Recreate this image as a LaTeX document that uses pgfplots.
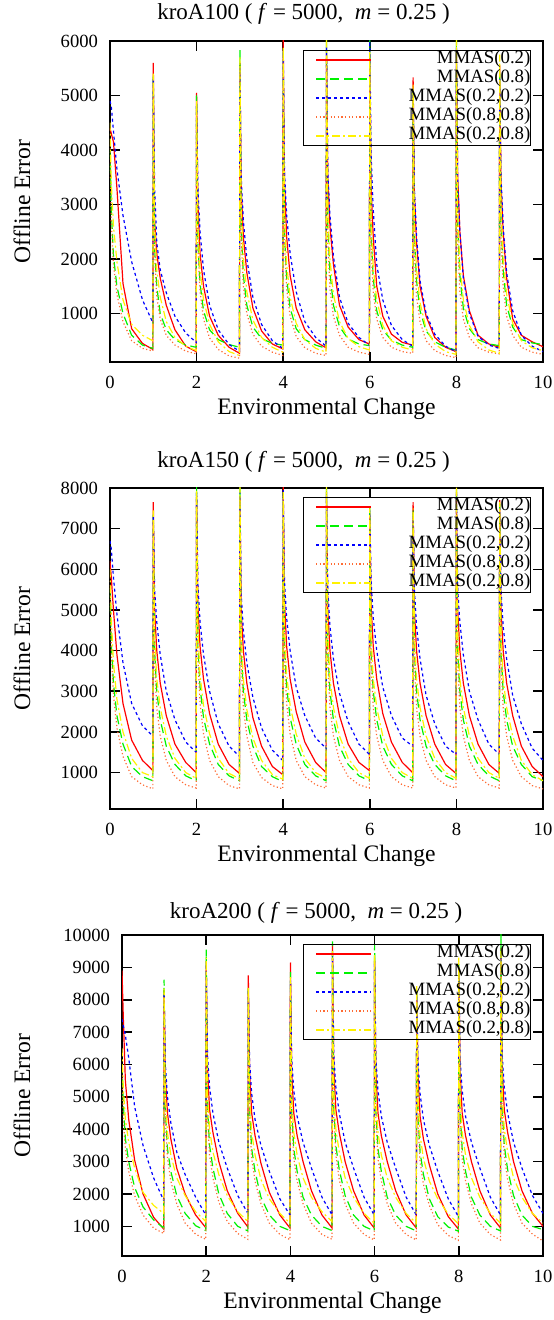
\documentclass[border=0pt]{standalone}
\usepackage{fontspec}
\setmainfont{Liberation Serif}
\usepackage{pgfplots}
\pgfplotsset{compat=1.18}
\usepackage{pgfplotstable}

\definecolor{cR}{rgb}{1,0,0}
\definecolor{cG}{rgb}{0,0.95,0}
\definecolor{cB}{rgb}{0,0,1}
\definecolor{cO}{rgb}{1,0.42,0.2}
\definecolor{cY}{rgb}{1,0.95,0}

\pgfplotstableread{
x r g b o y
0 4400 4000 4900 4100 4500
0.03 4300 2900 4800 2700 3400
0.08 4150 2050 4350 1900 2600
0.16 3300 1500 3650 1350 1950
0.3 1550 1000 2800 850 1250
0.5 720 600 1950 500 800
0.75 450 420 1250 360 600
0.99 340 360 830 310 500
1 5600 5350 5300 5250 5400
1.03 2700 2200 3300 2100 2600
1.08 2100 1500 2300 1300 1800
1.16 1650 1000 1800 900 1300
1.3 1150 700 1380 600 850
1.5 700 520 950 420 560
1.75 400 420 640 310 400
1.99 300 380 470 260 320
2 5050 5000 4850 4800 4900
2.03 3000 2300 3300 2200 2600
2.08 2100 1550 2500 1400 1800
2.16 1500 1050 1800 900 1250
2.3 950 700 1150 550 800
2.5 600 520 700 340 480
2.75 380 430 430 220 300
2.99 270 380 310 180 230
3 5600 5830 5500 5450 5700
3.03 3300 2600 3500 2400 2900
3.08 2400 1700 2700 1500 2000
3.16 1750 1150 2000 1000 1400
3.3 1100 750 1300 620 880
3.5 680 540 800 400 560
3.75 440 450 500 290 380
3.99 350 420 360 230 290
4 6050 5800 5850 5750 5900
4.03 3400 2500 3600 2300 2800
4.08 2400 1650 2800 1450 1900
4.16 1700 1100 2100 950 1300
4.3 1100 720 1400 580 820
4.5 700 520 850 370 520
4.75 480 420 560 270 360
4.99 370 360 400 230 290
5 5800 6050 5900 5700 6100
5.03 3500 2600 3600 2300 2900
5.08 2600 1750 2800 1450 2000
5.16 1900 1150 2050 950 1350
5.3 1150 760 1300 600 850
5.5 750 530 820 380 540
5.75 520 440 560 290 390
5.99 440 410 420 250 330
6 5700 6100 6050 5600 5800
6.03 3300 2500 3900 2200 2700
6.08 2400 1650 2900 1400 1850
6.16 1500 1050 1900 900 1250
6.3 950 700 1250 560 780
6.5 620 510 780 380 500
6.75 470 420 520 300 380
6.99 420 380 400 270 330
7 5330 5100 5150 5000 5200
7.03 3200 2400 3300 2100 2600
7.08 2300 1600 2400 1300 1800
7.16 1500 1050 1600 850 1200
7.3 950 680 1000 500 720
7.5 560 480 620 320 440
7.75 380 380 400 230 300
7.99 300 330 300 190 250
8 5800 6100 5900 5700 6050
8.03 3500 2600 3400 2300 2800
8.08 2500 1700 2500 1400 1900
8.16 1700 1100 1650 900 1250
8.3 1050 720 1000 560 780
8.5 600 520 580 370 480
8.75 440 440 420 290 330
8.99 380 410 360 260 270
9 5550 5400 5300 5250 5750
9.03 3400 2700 3500 2400 2900
9.08 2500 1800 2600 1500 2000
9.16 1650 1150 1750 950 1350
9.3 900 750 1050 600 820
9.5 600 520 600 380 500
9.75 480 460 400 290 370
10 390 430 300 250 320
}\tA

\pgfplotstableread{
x r g b o y
0 6200 5500 6700 5800 6000
0.03 5800 4200 6500 4000 4800
0.08 5000 3200 5800 2900 3700
0.16 3900 2400 4900 2100 2800
0.3 2700 1700 3700 1400 2000
0.5 1800 1150 2700 900 1350
0.75 1300 900 2150 700 1000
0.99 1050 800 1900 600 900
1 7650 7400 7300 7200 7450
1.03 5000 4000 5500 3700 4400
1.08 4000 3000 4700 2600 3300
1.16 3200 2300 3900 1900 2600
1.3 2400 1650 3000 1300 1900
1.5 1700 1200 2300 900 1350
1.75 1250 920 1750 700 1000
1.99 1000 800 1500 620 860
2 7800 8050 7900 7700 7950
2.03 5100 4100 5600 3800 4500
2.08 4100 3100 4700 2700 3400
2.16 3300 2350 3900 1950 2650
2.3 2450 1700 3000 1300 1950
2.5 1700 1200 2200 900 1350
2.75 1200 920 1650 680 980
2.99 980 800 1400 600 850
3 7800 8000 7900 7700 8050
3.03 5000 4000 5400 3700 4400
3.08 4000 3000 4500 2600 3300
3.16 3200 2300 3700 1900 2550
3.3 2350 1650 2850 1250 1850
3.5 1650 1150 2100 880 1300
3.75 1150 900 1550 680 950
3.99 950 780 1300 600 840
4 8050 7900 7950 7800 7900
4.03 5200 4100 5700 3800 4500
4.08 4100 3100 4800 2700 3400
4.16 3300 2350 4000 1950 2650
4.3 2500 1700 3100 1300 1950
4.5 1750 1200 2400 900 1350
4.75 1250 920 1850 700 1000
4.99 1000 800 1600 620 860
5 7900 8000 7800 7700 8100
5.03 5000 4000 5500 3700 4400
5.08 4000 3000 4600 2600 3300
5.16 3200 2300 3800 1900 2600
5.3 2400 1650 2950 1300 1900
5.5 1700 1200 2250 900 1350
5.75 1250 920 1700 700 1000
5.99 1050 800 1450 620 860
6 7400 7550 7450 7300 7500
6.03 5100 4000 5700 3700 4400
6.08 4100 3000 4800 2600 3300
6.16 3300 2300 4000 1900 2600
6.3 2450 1650 3100 1300 1900
6.5 1750 1200 2400 900 1350
6.75 1250 920 1850 700 1000
6.99 1000 800 1650 620 860
7 7650 7450 7400 7300 7500
7.03 5000 4000 5500 3700 4400
7.08 4000 3000 4600 2600 3300
7.16 3200 2300 3800 1900 2600
7.3 2400 1650 2900 1300 1900
7.5 1700 1200 2200 900 1350
7.75 1200 920 1650 700 1000
7.99 980 800 1450 620 860
8 7900 8000 7850 7700 8100
8.03 5000 4000 5500 3700 4400
8.08 4000 3000 4700 2600 3300
8.16 3200 2300 3900 1900 2600
8.3 2400 1650 3000 1300 1900
8.5 1700 1200 2300 900 1350
8.75 1200 920 1700 700 1000
8.99 980 800 1450 620 860
9 7700 7600 7500 7400 7650
9.03 5000 4000 5500 3700 4400
9.08 4000 3000 4600 2600 3300
9.16 3200 2300 3800 1900 2600
9.3 2400 1650 2900 1300 1900
9.5 1650 1200 2200 900 1300
9.75 1150 900 1600 680 950
10 900 800 1300 600 800
}\tB

\pgfplotstableread{
x r g b o y
0 8900 6000 7400 5800 6500
0.03 7500 4800 7200 4400 5300
0.08 5500 3700 6900 3400 4300
0.16 4300 3000 6200 2700 3600
0.3 3050 2200 4700 1950 2800
0.5 2000 1600 3500 1350 2050
0.75 1280 1200 2500 950 1650
0.99 920 950 1800 780 1400
1 8300 8620 8200 8100 8350
1.03 5600 4600 6000 4300 5000
1.08 4500 3400 5000 3100 3900
1.16 3700 2700 4200 2400 3200
1.3 2800 1950 3300 1700 2500
1.5 2000 1400 2600 1100 1950
1.75 1350 1020 1900 760 1450
1.99 960 870 1350 600 1150
2 9200 9550 9100 9000 9300
2.03 5900 4700 6300 4400 5100
2.08 4600 3500 5300 3200 4000
2.16 3900 2800 4500 2500 3300
2.3 3000 2000 3600 1750 2600
2.5 2100 1400 2800 1150 1950
2.75 1400 1000 1950 780 1450
2.99 980 860 1400 600 1150
3 8750 8350 8300 8200 8400
3.03 5800 4600 6100 4300 5000
3.08 4500 3400 5100 3100 3900
3.16 3800 2700 4300 2400 3200
3.3 2950 1900 3500 1700 2450
3.5 2050 1350 2700 1100 1850
3.75 1350 1000 1850 750 1400
3.99 950 870 1350 590 1100
4 9150 8850 8600 8500 8700
4.03 5800 4600 6200 4300 5000
4.08 4500 3400 5200 3100 3900
4.16 3800 2700 4400 2400 3200
4.3 3000 1900 3600 1700 2500
4.5 2100 1350 2800 1100 1900
4.75 1350 1000 1900 750 1450
4.99 950 870 1350 600 1150
5 9700 9800 9400 9300 9500
5.03 5900 4700 6300 4400 5100
5.08 4600 3500 5300 3200 4000
5.16 3900 2750 4500 2450 3300
5.3 3000 1950 3600 1700 2500
5.5 2100 1350 2800 1100 1900
5.75 1350 1000 1900 750 1400
5.99 950 860 1350 580 1100
6 9300 9700 9200 9000 9400
6.03 5800 4600 6200 4300 5000
6.08 4500 3400 5200 3100 3900
6.16 3800 2700 4400 2400 3200
6.3 3000 1900 3600 1700 2500
6.5 2100 1350 2800 1100 1900
6.75 1350 1000 1900 750 1400
6.99 950 860 1350 580 1100
7 8200 8300 8100 8000 8450
7.03 5700 4500 6100 4200 4900
7.08 4400 3300 5100 3000 3800
7.16 3700 2600 4300 2300 3100
7.3 2900 1850 3500 1650 2400
7.5 2000 1300 2700 1050 1850
7.75 1300 980 1850 720 1380
7.99 920 850 1300 570 1080
8 9000 9100 8900 9000 9300
8.03 5800 4600 6200 4300 5000
8.08 4500 3400 5200 3100 3900
8.16 3800 2700 4400 2400 3200
8.3 3000 1900 3600 1700 2500
8.5 2100 1350 2800 1100 1900
8.75 1350 1000 1900 750 1400
8.99 950 860 1350 580 1100
9 9600 10050 9400 9300 9500
9.03 5900 4700 6300 4400 5100
9.08 4600 3500 5300 3200 4000
9.16 3900 2750 4500 2450 3300
9.3 3000 1950 3600 1700 2500
9.5 2100 1350 2800 1100 1900
9.75 1400 1000 1950 760 1400
10 1000 900 1400 550 1100
}\tC

\pgfplotsset{
  gp/.style={
    scale only axis,
    height=160.5pt,
    xmin=0, xmax=10, xtick={0,2,4,6,8,10},
    axis line style={line width=1pt},
    every tick/.style={line width=0.8pt, black},
    tick align=inside, tick pos=both,
    xticklabel pos=lower, yticklabel pos=left,
    major tick length=5pt,
    tick label style={font=\fontsize{9.3}{11}\selectfont},
    /pgf/number format/assume math mode=true,
    /pgf/number format/1000 sep={},
    scaled y ticks=false,
    xticklabel style={anchor=center, yshift=-10pt},
    yticklabel style={xshift=-2.5pt},
    xlabel={Environmental Change},
    ylabel={Offline Error},
    label style={font=\fontsize{11.8}{13}\selectfont},
    every axis title shift=0pt,
    title style={font=\fontsize{11.5}{13}\selectfont, anchor=center, yshift=0pt},
    legend cell align=right,
    legend style={anchor=north east, draw=black, line width=0.6pt, fill=none,
      inner sep=0pt, row sep=0pt, font=\fontsize{9.4}{11}\selectfont,
      nodes={inner sep=0pt, text height=6.6pt, text depth=2.9pt}},
    legend image code/.code={\path (-6pt,0pt) (46pt,0pt);
      \draw[##1] (0pt,0pt) -- (27.5pt,0pt);},
  },
  sR/.style={color=cR, line width=0.6pt, solid},
  sG/.style={color=cG, line width=0.6pt, dash pattern=on 4.5pt off 2.5pt},
  sB/.style={color=cB, line width=0.6pt, dash pattern=on 1.5pt off 1.5pt},
  sO/.style={color=cO, line width=0.6pt, dash pattern=on 0.6pt off 1.2pt},
  sY/.style={color=cY, line width=0.6pt, dash pattern=on 4pt off 1.5pt on 1pt off 1.5pt},
}

\begin{document}
\begin{tikzpicture}
\useasboundingbox (0,0) rectangle (276.5pt,660pt);

\begin{axis}[gp, at={(55pt,479pt)}, anchor=south west, width=216.5pt,
  ymin=110, ymax=6000, ytick={1000,2000,3000,4000,5000,6000},
  title={kroA100 ( \textit{f} = 5000,\ \ \textit{m} = 0.25 )},
  title style={at={(axis description cs:0.4469,1.0841)}},
  xlabel style={at={(axis description cs:0.5,-0.1464)}, anchor=center},
  ylabel style={at={(axis description cs:-0.2032,0.5)}, anchor=center},
  legend style={at={(axis description cs:0.9723,0.972)}}]
\addplot[sR] table[x=x,y=r]{\tA}; \addlegendentry{MMAS(0.2)}
\addplot[sG] table[x=x,y=g]{\tA}; \addlegendentry{MMAS(0.8)}
\addplot[sB] table[x=x,y=b]{\tA}; \addlegendentry{MMAS(0.2,0.2)}
\addplot[sO] table[x=x,y=o]{\tA}; \addlegendentry{MMAS(0.8,0.8)}
\addplot[sY] table[x=x,y=y]{\tA}; \addlegendentry{MMAS(0.2,0.8)}
\end{axis}

\begin{axis}[gp, at={(55pt,255.5pt)}, anchor=south west, width=216.5pt,
  ymin=105, ymax=8000, ytick={1000,2000,3000,4000,5000,6000,7000,8000},
  title={kroA150 ( \textit{f} = 5000,\ \ \textit{m} = 0.25 )},
  title style={at={(axis description cs:0.4469,1.081)}},
  xlabel style={at={(axis description cs:0.5,-0.1464)}, anchor=center},
  ylabel style={at={(axis description cs:-0.2032,0.5)}, anchor=center},
  legend style={at={(axis description cs:0.9723,0.972)}}]
\addplot[sR] table[x=x,y=r]{\tB}; \addlegendentry{MMAS(0.2)}
\addplot[sG] table[x=x,y=g]{\tB}; \addlegendentry{MMAS(0.8)}
\addplot[sB] table[x=x,y=b]{\tB}; \addlegendentry{MMAS(0.2,0.2)}
\addplot[sO] table[x=x,y=o]{\tB}; \addlegendentry{MMAS(0.8,0.8)}
\addplot[sY] table[x=x,y=y]{\tB}; \addlegendentry{MMAS(0.2,0.8)}
\end{axis}

\begin{axis}[gp, at={(61pt,32pt)}, anchor=south west, width=210.5pt,
  ymin=85, ymax=10000, ytick={1000,2000,3000,4000,5000,6000,7000,8000,9000,10000},
  title={kroA200 ( \textit{f} = 5000,\ \ \textit{m} = 0.25 )},
  title style={at={(axis description cs:0.461,1.0685)}},
  xlabel style={at={(axis description cs:0.5,-0.1464)}, anchor=center},
  ylabel style={at={(axis description cs:-0.2375,0.5)}, anchor=center},
  legend style={at={(axis description cs:0.9715,0.972)}}]
\addplot[sR] table[x=x,y=r]{\tC}; \addlegendentry{MMAS(0.2)}
\addplot[sG] table[x=x,y=g]{\tC}; \addlegendentry{MMAS(0.8)}
\addplot[sB] table[x=x,y=b]{\tC}; \addlegendentry{MMAS(0.2,0.2)}
\addplot[sO] table[x=x,y=o]{\tC}; \addlegendentry{MMAS(0.8,0.8)}
\addplot[sY] table[x=x,y=y]{\tC}; \addlegendentry{MMAS(0.2,0.8)}
\end{axis}
\end{tikzpicture}
\end{document}
